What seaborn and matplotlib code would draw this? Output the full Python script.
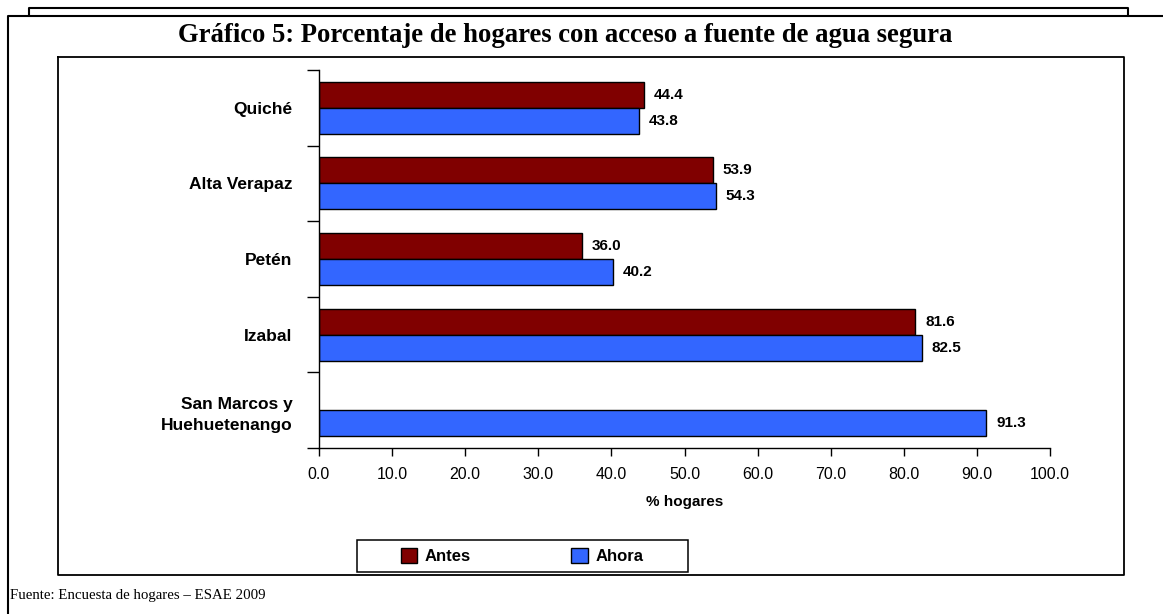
import pandas as pd
import numpy as np
import matplotlib
matplotlib.use("Agg")
import matplotlib.pyplot as plt
import seaborn as sns
from matplotlib.lines import Line2D
from matplotlib.patches import Rectangle

# --------------------------------------------------
# DATA
# --------------------------------------------------

departamentos = [
    "Quiché",
    "Alta Verapaz",
    "Petén",
    "Izabal",
    "San Marcos y\nHuehuetenango",
]

antes = [44.4, 53.9, 36.0, 81.6, np.nan]
ahora = [43.8, 54.3, 40.2, 82.5, 91.3]

x_ticks = [0, 10, 20, 30, 40, 50, 60, 70, 80, 90, 100]

colores = {"Antes": "#800000", "Ahora": "#3366FF"}

df = pd.DataFrame({
    "Departamento": departamentos * 2,
    "Periodo": ["Antes"] * len(departamentos) + ["Ahora"] * len(departamentos),
    "Porcentaje": antes + ahora,
})

# --------------------------------------------------
# FIGURE
# --------------------------------------------------

sns.set_theme(style="white")
plt.rcParams["font.family"] = ["Liberation Sans", "DejaVu Sans"]
plt.rcParams["text.color"] = "black"
plt.rcParams["xtick.color"] = "black"
plt.rcParams["ytick.color"] = "black"
plt.rcParams["axes.labelcolor"] = "black"

W, H = 1163, 614
fig = plt.figure(figsize=(W / 100, H / 100), dpi=100)
fig.patch.set_facecolor("white")


def fx(px):
    return px / W


def fy(py):
    return 1 - py / H


ax = fig.add_axes([fx(319), fy(448), fx(1050 - 319), (448 - 70) / H])

sns.barplot(
    data=df,
    y="Departamento",
    x="Porcentaje",
    hue="Periodo",
    palette=colores,
    saturation=1,
    orient="h",
    width=0.69,
    edgecolor="black",
    linewidth=1.0,
    errorbar=None,
    ax=ax,
)

for cont in ax.containers:
    ax.bar_label(
        cont,
        fmt="%.1f",
        padding=7,
        fontsize=11,
        fontweight="bold",
        color="black",
    )

ax.set_xlim(0, 100)
ax.set_ylim(len(departamentos) - 0.5, -0.5)
ax.set_xticks(x_ticks)
ax.set_xticklabels([f"{v:.1f}" for v in x_ticks], fontsize=11.5)
ax.set_xlabel("% hogares", fontsize=11, fontweight="bold", labelpad=9)
ax.set_ylabel("")

ax.set_yticks(range(len(departamentos)))
ax.set_yticklabels(departamentos, fontsize=12.5, fontweight="bold",
                   linespacing=1.5)
ax.set_yticks(np.arange(-0.5, len(departamentos)), minor=True)
ax.tick_params(axis="y", which="major", length=0, pad=19)
ax.tick_params(axis="y", which="minor", length=9, width=1, color="black",
               direction="out", left=True)
ax.tick_params(axis="x", length=6, width=1, color="black",
               direction="out", bottom=True, pad=8)

for s in ["top", "right"]:
    ax.spines[s].set_visible(False)
for s in ["left", "bottom"]:
    ax.spines[s].set_color("black")
    ax.spines[s].set_linewidth(1)

# legend (frame drawn separately)
handles = [
    Rectangle((0, 0), 1, 1, facecolor=colores[k], edgecolor="black")
    for k in ["Antes", "Ahora"]
]
ax.get_legend().remove()
fig.legend(
    handles,
    ["Antes", "Ahora"],
    loc="center",
    bbox_to_anchor=(fx(522), fy(556)),
    ncol=2,
    frameon=False,
    handlelength=1.0,
    handleheight=1.0,
    handletextpad=0.45,
    columnspacing=6.0,
    borderpad=0,
    borderaxespad=0,
    prop={"weight": "bold", "size": 12},
)
fig.add_artist(Rectangle((fx(357), fy(572)), fx(688 - 357), (572 - 540) / H,
                         facecolor="none", edgecolor="black", linewidth=1.1,
                         transform=fig.transFigure))

# title and source
fig.text(fx(565), fy(36), "Gráfico 5: Porcentaje de hogares con acceso a fuente de agua segura",
         ha="center", va="center", fontsize=19.2, fontweight="bold",
         family=["Liberation Serif", "DejaVu Serif"])
fig.text(fx(10), fy(596), "Fuente: Encuesta de hogares – ESAE 2009",
         ha="left", va="center", fontsize=10.7,
         family=["Liberation Serif", "DejaVu Serif"])

# frames
def line(xs, ys, lw=1.5):
    fig.add_artist(Line2D([fx(v) for v in xs], [fy(v) for v in ys],
                          color="black", linewidth=lw))

line([29, 29, 1128, 1128], [16, 8, 8, 16])
line([1163, 8, 8], [16, 16, 614])
line([58, 1124, 1124, 58, 58], [57, 57, 575, 575, 57], lw=1.3)

plt.savefig("out.png", dpi=100, facecolor="white")
plt.close()
